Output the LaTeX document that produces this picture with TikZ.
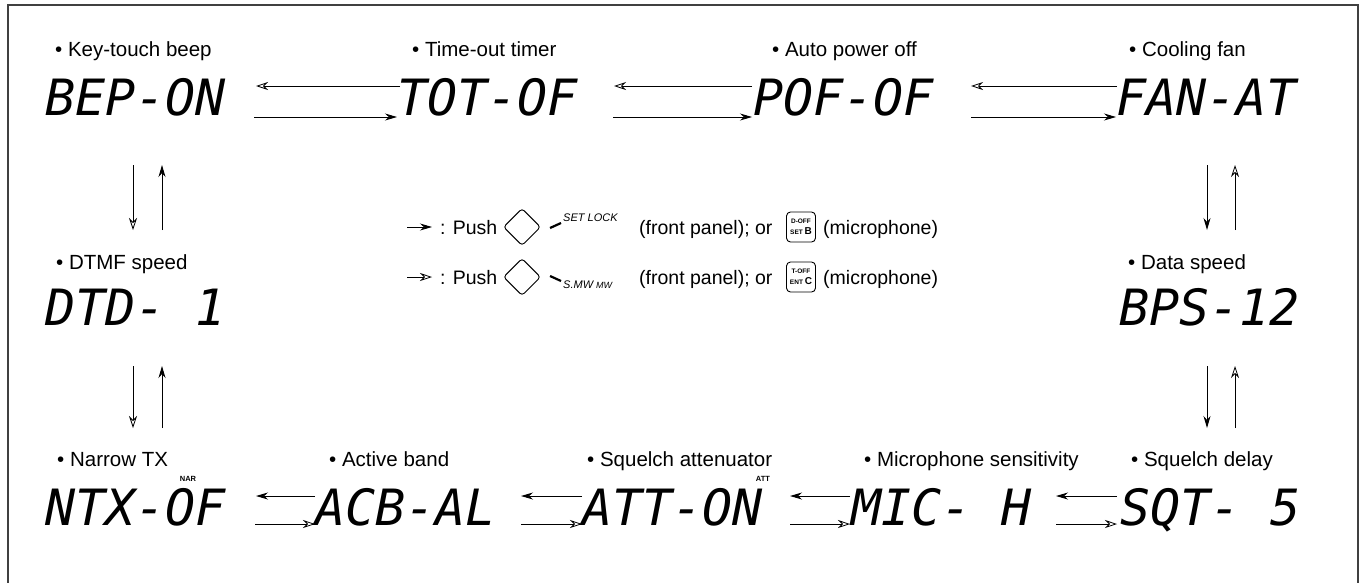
\documentclass[tikz,border=0pt]{standalone}
\usepackage{fontspec}
\setmainfont{Liberation Sans}
\newfontfamily\lcdfont{DejaVu Sans Mono}
\usetikzlibrary{arrows.meta,calc}
\begin{document}
\begin{tikzpicture}[x=1pt,y=-1pt,
  lab/.style={anchor=base west, inner sep=0, font=\fontsize{20.5}{24}\selectfont},
  leg/.style={anchor=base west, inner sep=0, font=\fontsize{19.5}{24}\selectfont},
  lcd/.style={anchor=base west, inner sep=0, font=\fontsize{50}{56}\selectfont\lcdfont\itshape},
  fw/.style={line width=0.9pt, -{Stealth[length=12pt,width=7pt]}},
  bw/.style={line width=0.9pt, -{Stealth[open,length=12pt,width=8pt,line width=0.8pt]}},
  tinytxt/.style={inner sep=0, font=\fontsize{7.5}{8}\selectfont\bfseries},
  keybox/.style={draw, rounded corners=4pt, minimum width=29pt, minimum height=30pt, inner sep=0pt, line width=0.9pt, align=center},
  small/.style={anchor=base west, inner sep=0, font=\fontsize{11}{12}\selectfont\itshape},
  dia/.style={draw, line width=0.9pt, rounded corners=3pt, minimum size=26pt, rotate=45, inner sep=0pt}
]
\useasboundingbox (0,0) rectangle (1362,582);
\fill[white] (0,0) rectangle (1362,582);
% frame (open at the bottom)
\draw[line width=1.4pt, black!75] (8,600) -- (8,5) -- (1358,5) -- (1358,600);

% labels
\node[lab] (lkey) at (55,56) {• Key-touch beep};
\node[lab] (ltot) at (412,56) {• Time-out timer};
\node[lab] (lpof) at (772,56) {• Auto power off};
\node[lab] (lfan) at (1129,56) {• Cooling fan};
\node[lab] (ldtd) at (56,269) {• DTMF speed};
\node[lab] (lbps) at (1128,269) {• Data speed};
\node[lab] (lntx) at (57,466) {• Narrow TX};
\node[lab] (lacb) at (329,466) {• Active band};
\node[lab] (latt) at (587,466) {• Squelch attenuator};
\node[lab] (lmic) at (864,466) {• Microphone sensitivity};
\node[lab] (lsqt) at (1131,466) {• Squelch delay};

% LCD readouts
\node[lcd] (bep) at (45,115) {BEP-ON};
\node[lcd] (tot) at (397,115) {TOT-OF};
\node[lcd] (pof) at (753,115) {POF-OF};
\node[lcd] (fan) at (1116,115) {FAN-AT};
\node[lcd] (dtd) at (45,325) {DTD- 1};
\node[lcd] (bps) at (1119,325) {BPS-12};
\node[lcd] (ntx) at (45,525) {NTX-OF};
\node[lcd] (acb) at (315,525) {ACB-AL};
\node[lcd] (att) at (582,525) {ATT-ON};
\node[lcd] (mic) at (851,525) {MIC- H};
\node[lcd] (sqt) at (1120,525) {SQT- 5};
\node[tinytxt] (nar) at (188,479) {NAR};
\node[tinytxt] (attind) at (763,479) {ATT};

% top row arrows
\draw[bw] ($(tot.west|-0,86)+(3,0)$) -- ($(bep.east|-0,86)+(30,0)$);
\draw[fw] ($(bep.east|-0,117)+(28,0)$) -- ($(tot.west|-0,117)+(0,0)$);
\draw[bw] ($(pof.west|-0,86)+(-1,0)$) -- ($(tot.east|-0,86)+(36,0)$);
\draw[fw] ($(tot.east|-0,117)+(35,0)$) -- ($(pof.west|-0,117)+(-1,0)$);
\draw[bw] ($(fan.west|-0,86)+(1,0)$) -- ($(pof.east|-0,86)+(37,0)$);
\draw[fw] ($(pof.east|-0,117)+(37,0)$) -- ($(fan.west|-0,117)+(0,0)$);

% bottom row arrows
\draw[fw] ($(acb.west|-0,496)+(0,0)$) -- ($(ntx.east|-0,496)+(30,0)$);
\draw[bw] ($(ntx.east|-0,524)+(29,0)$) -- ($(acb.west|-0,524)+(0,0)$);
\draw[fw] ($(att.west|-0,496)+(0,0)$) -- ($(acb.east|-0,496)+(25,0)$);
\draw[bw] ($(acb.east|-0,524)+(25,0)$) -- ($(att.west|-0,524)+(0,0)$);
\draw[fw] ($(mic.west|-0,496)+(-1,0)$) -- ($(att.east|-0,496)+(27,0)$);
\draw[bw] ($(att.east|-0,524)+(27,0)$) -- ($(mic.west|-0,524)+(-1,0)$);
\draw[fw] ($(sqt.west|-0,496)+(-3,0)$) -- ($(mic.east|-0,496)+(24,0)$);
\draw[bw] ($(mic.east|-0,524)+(24,0)$) -- ($(sqt.west|-0,524)+(-3,0)$);

% left column arrows
\draw[bw] ($(bep.west|-0,165)+(88,0)$) -- ($(dtd.west|-0,230)+(88,0)$);
\draw[fw] ($(dtd.west|-0,230)+(117,0)$) -- ($(bep.west|-0,165)+(117,0)$);
\draw[bw] ($(dtd.west|-0,366)+(88,0)$) -- ($(ntx.west|-0,428)+(88,0)$);
\draw[fw] ($(ntx.west|-0,428)+(117,0)$) -- ($(dtd.west|-0,366)+(117,0)$);

% right column arrows
\draw[fw] ($(fan.west|-0,165)+(91,0)$) -- ($(bps.west|-0,230)+(88,0)$);
\draw[bw] ($(bps.west|-0,230)+(116,0)$) -- ($(fan.west|-0,165)+(119,0)$);
\draw[fw] ($(bps.west|-0,366)+(88,0)$) -- ($(sqt.west|-0,428)+(87,0)$);
\draw[bw] ($(sqt.west|-0,428)+(115,0)$) -- ($(bps.west|-0,366)+(116,0)$);

% legend line 1
\coordinate (s1) at (407,227);
\node[leg] (push1) at (440,234) {: Push};
\draw[fw] (s1) -- ($(push1.west|-s1)+(-8,0)$);
\node[dia] (dia1) at (522,227) {};
\draw[line width=2.2pt] ($(dia1.south east)+(9,1)$) -- ++(11,-5);
\node[small] (setlock) at (563,221) {SET LOCK};
\node[leg] (fp1) at (639,234) {(front panel); or};
\node[keybox] (kb1) at (801,227) {\fontsize{6.5}{7}\selectfont\bfseries D-OFF\\[-1pt]\fontsize{6.5}{7}\selectfont\bfseries SET \fontsize{10}{10}\selectfont\bfseries B};
\node[leg] (mc1) at (823,234) {(microphone)};

% legend line 2
\coordinate (s2) at (407,277);
\node[leg] (push2) at (440,284) {: Push};
\draw[bw] (s2) -- ($(push2.west|-s2)+(-8,0)$);
\node[dia] (dia2) at (522,277) {};
\draw[line width=2.2pt] ($(dia2.south east)+(9,-1)$) -- ++(11,5);
\node[small] (smw) at (563,288) {S.MW {\fontsize{9}{10}\selectfont MW}};
\node[leg] (fp2) at (639,284) {(front panel); or};
\node[keybox] (kb2) at (801,277) {\fontsize{6.5}{7}\selectfont\bfseries T-OFF\\[-1pt]\fontsize{6.5}{7}\selectfont\bfseries ENT \fontsize{10}{10}\selectfont\bfseries C};
\node[leg] (mc2) at (823,284) {(microphone)};
\end{tikzpicture}
\end{document}
